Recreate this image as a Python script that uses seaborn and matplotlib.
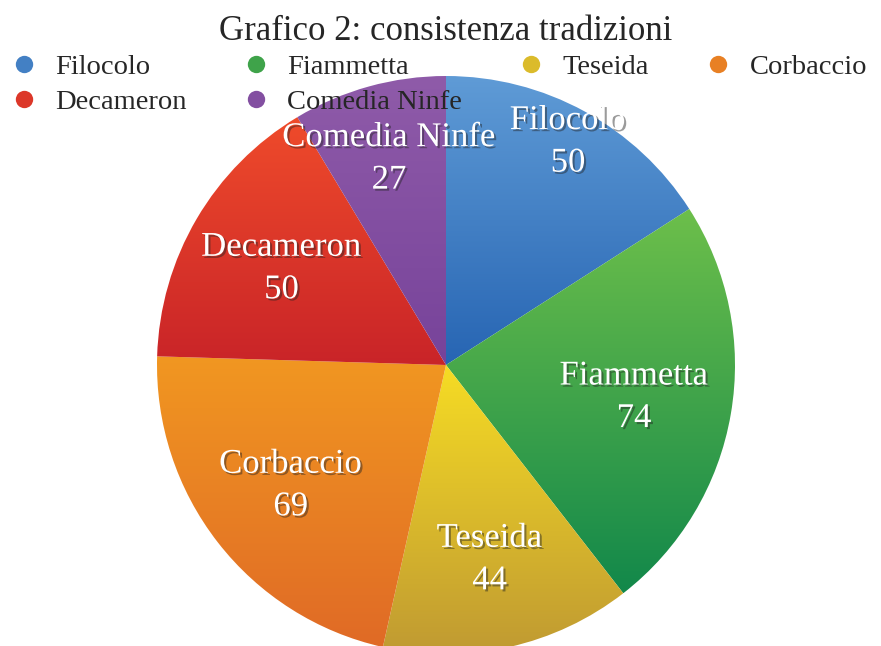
import numpy as np
import matplotlib
matplotlib.use("Agg")
import matplotlib.pyplot as plt
import matplotlib.patheffects as pe
from matplotlib.lines import Line2D
import seaborn as sns

# data
labels = ["Filocolo", "Fiammetta", "Teseida", "Corbaccio", "Decameron", "Comedia Ninfe"]
values = [50, 74, 44, 69, 50, 27]
top_colors = ["#5f9bd6", "#6dbf4b", "#f6dc24", "#f19721", "#ef4b2b", "#8f5ba9"]
bottom_colors = ["#2765b3", "#12884a", "#c09a32", "#e06a26", "#c92428", "#77439a"]
title = "Grafico 2: consistenza tradizioni"

# label distance from centre (fraction of radius), per slice
label_dist = [0.88, 0.66, 0.69, 0.68, 0.66, 0.74]

sns.set_style("white")
plt.rcParams["font.family"] = ["Liberation Serif", "DejaVu Serif"]

W, H = 881, 646
fig = plt.figure(figsize=(W / 100, H / 100), dpi=100)
ax = fig.add_axes([0, 0, 1, 1])

cx, cy, R = 446, H - 365, 289
wedges, _ = ax.pie(values, startangle=90, counterclock=False, center=(cx, cy),
                   radius=R, frame=True, wedgeprops=dict(linewidth=0))

grad = np.linspace(0, 1, 256).reshape(-1, 1)
for w, c0, c1 in zip(wedges, top_colors, bottom_colors):
    ext = w.get_path().get_extents()
    cmap = sns.blend_palette([c0, c1], as_cmap=True)
    im = ax.imshow(grad, extent=(ext.x0, ext.x1, ext.y0, ext.y1), origin="upper",
                   cmap=cmap, aspect="auto", zorder=1, interpolation="bilinear")
    im.set_clip_path(w)
    w.set_facecolor("none")

# slice labels
shadow = [pe.SimplePatchShadow(offset=(1.5, -1.5), shadow_rgbFace="#222222", alpha=0.45),
          pe.Normal()]
total = sum(values)
cum = np.cumsum([0] + values)
for i, (lab, v) in enumerate(zip(labels, values)):
    theta = np.deg2rad((cum[i] + v / 2) / total * 360)
    r = label_dist[i] * R
    x = cx + r * np.sin(theta)
    y = cy + r * np.cos(theta)
    ax.text(x, y, f"{lab}\n{v}", ha="center", va="center", color="white",
            fontsize=25, linespacing=1.38, zorder=5, path_effects=shadow)

ax.set_xlim(0, W)
ax.set_ylim(0, H)
ax.set_aspect("equal")
ax.axis("off")

fig.text(446 / W, 1 - 31 / H, title, ha="center", va="center", fontsize=25)

# legend, column-major order so rows read like the reference
order = [0, 4, 1, 5, 2, 3]
mid_colors = [sns.blend_palette([top_colors[i], bottom_colors[i]], 3)[1] for i in range(len(labels))]
handles = [Line2D([], [], marker="o", linestyle="none", markersize=12.5,
                  markerfacecolor=mid_colors[i], markeredgewidth=0) for i in order]
fig.legend(handles, [labels[i] for i in order], loc="upper left",
           bbox_to_anchor=(14 / W, 1 - 54 / H), ncol=4, frameon=False, fontsize=20.5,
           handlelength=0.7, handletextpad=0.75, columnspacing=2.08,
           labelspacing=0.33, borderpad=0, borderaxespad=0)

fig.savefig("out.png", dpi=100)
